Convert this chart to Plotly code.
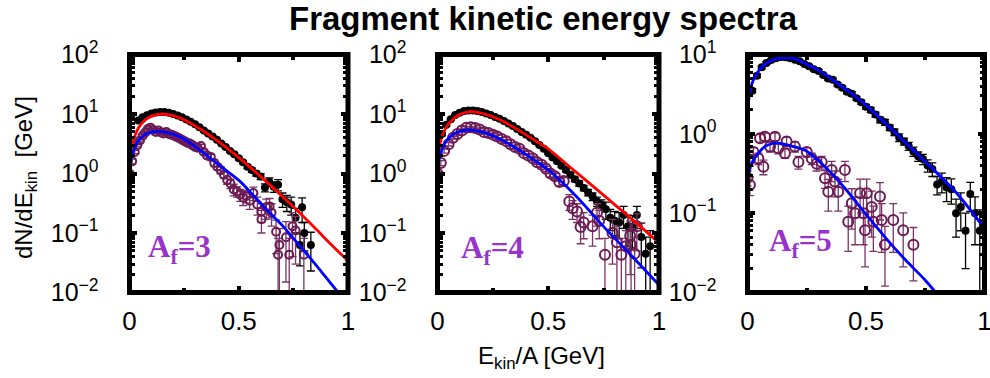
import plotly.graph_objects as go

# ---------------- data ----------------
# Panel A_f=3
p1_black_x = [0.04, 0.06, 0.08, 0.10, 0.12, 0.14, 0.16, 0.18, 0.20, 0.22,
              0.24, 0.26, 0.28, 0.30, 0.32, 0.34, 0.36, 0.38, 0.40, 0.42,
              0.44, 0.46, 0.48, 0.50, 0.52, 0.54, 0.56, 0.58, 0.60, 0.62,
              0.64, 0.66, 0.68, 0.70, 0.72, 0.74, 0.76, 0.78, 0.79, 0.80,
              0.83]
p1_black_y = [7.8, 8.8, 9.5, 10.2, 10.6, 10.8, 10.8, 10.5, 10.0, 9.4,
              8.8, 8.1, 7.4, 6.7, 6.0, 5.3, 4.7, 4.2, 3.7, 3.2,
              2.8, 2.4, 2.1, 1.8, 1.55, 1.3, 1.14, 1.0, 0.89, 0.58,
              0.72, 0.6, 0.65, 0.37, 0.33, 0.30, 0.18, 0.063, 0.27, 0.10,
              0.063]
p1_black_e = [0.3, 0.3, 0.3, 0.3, 0.3, 0.3, 0.3, 0.3, 0.3, 0.3,
              0.3, 0.3, 0.25, 0.25, 0.2, 0.2, 0.2, 0.15, 0.15, 0.12,
              0.12, 0.1, 0.1, 0.1, 0.1, 0.09, 0.09, 0.1, 0.1, 0.09,
              0.12, 0.12, 0.14, 0.1, 0.1, 0.1, 0.08, 0.035, 0.12, 0.05,
              0.04]
p1_open_x = [0.0, 0.012, 0.024, 0.036, 0.048, 0.06, 0.072, 0.084, 0.096, 0.108,
             0.12, 0.132, 0.144, 0.156, 0.168, 0.18, 0.192, 0.204, 0.216, 0.228,
             0.24, 0.252, 0.264, 0.276, 0.288, 0.30, 0.312, 0.327, 0.34, 0.355,
             0.372, 0.388, 0.402, 0.417, 0.432, 0.447, 0.462, 0.477, 0.492, 0.507,
             0.52, 0.535, 0.55, 0.567, 0.585, 0.604, 0.604, 0.626, 0.641, 0.65,
             0.671, 0.68, 0.686, 0.716, 0.731, 0.746, 0.76, 0.798]
p1_open_y = [1.0, 1.6, 2.3, 3.0, 3.6, 4.3, 4.9, 5.6, 5.9, 5.4,
             5.0, 5.3, 4.9, 4.7, 5.0, 4.6, 4.5, 4.3, 4.1, 3.9,
             3.7, 3.5, 3.3, 3.2, 3.0, 2.8, 2.7, 2.9, 2.3, 2.0,
             1.9, 1.5, 1.3, 1.14, 0.95, 0.78, 0.68, 0.54, 0.5, 0.44,
             0.39, 0.42, 0.35, 0.47, 0.3, 0.23, 0.17, 0.27, 0.28, 0.22,
             0.105, 0.043, 0.063, 0.085, 0.043, 0.13, 0.11, 0.043]
p1_open_e = [0.1, 0.15, 0.15, 0.2, 0.2, 0.2, 0.2, 0.2, 0.2, 0.2,
             0.2, 0.2, 0.2, 0.2, 0.2, 0.2, 0.2, 0.2, 0.2, 0.2,
             0.2, 0.2, 0.2, 0.2, 0.2, 0.2, 0.2, 0.2, 0.2, 0.2,
             0.2, 0.2, 0.15, 0.15, 0.12, 0.12, 0.12, 0.12, 0.1, 0.1,
             0.1, 0.1, 0.1, 0.12, 0.1, 0.08, 0.07, 0.1, 0.1, 0.09,
             0.06, 0.038, 0.055, 0.07, 0.038, 0.09, 0.08, 0.038]
p1_red_x = [0.0, 0.005, 0.01, 0.02, 0.035, 0.05, 0.075, 0.1, 0.15, 0.2,
            0.25, 0.327, 0.4, 0.5, 0.626, 0.7, 0.775, 0.85, 0.925, 1.0]
p1_red_y = [1.1, 1.9, 2.7, 3.8, 5.3, 6.5, 8.1, 9.2, 10.0, 9.4,
            8.0, 5.5, 3.6, 1.85, 0.73, 0.41, 0.225, 0.12, 0.063, 0.034]
p1_blue_x = [0.0, 0.005, 0.01, 0.02, 0.035, 0.05, 0.08, 0.13, 0.2, 0.25,
             0.327, 0.42, 0.507, 0.566, 0.626, 0.7, 0.776, 0.85, 0.955, 0.98]
p1_blue_y = [1.0, 1.5, 1.9, 2.5, 3.3, 3.9, 4.7, 5.1, 4.6, 3.8,
             2.4, 1.3, 0.73, 0.43, 0.25, 0.133, 0.063, 0.030, 0.010, 0.0079]

# Panel A_f=4
p2_black_x = [0.02, 0.04, 0.06, 0.08, 0.10, 0.12, 0.14, 0.16, 0.18, 0.20,
              0.22, 0.24, 0.26, 0.28, 0.30, 0.32, 0.34, 0.36, 0.38, 0.40,
              0.42, 0.44, 0.46, 0.48, 0.50, 0.52, 0.54, 0.56, 0.58, 0.60,
              0.62, 0.64, 0.66, 0.68, 0.70, 0.72, 0.74, 0.76, 0.78, 0.80,
              0.82, 0.84, 0.86, 0.88, 0.90, 0.92, 0.94, 0.96]
p2_black_y = [4.6, 6.6, 8.2, 9.6, 10.5, 11.2, 11.5, 11.5, 11.2, 10.8,
              10.2, 9.6, 8.9, 8.3, 7.6, 6.9, 6.3, 5.6, 5.0, 4.5,
              4.0, 3.5, 3.0, 2.6, 2.2, 1.85, 1.6, 1.35, 1.15, 0.95,
              0.8, 0.68, 0.57, 0.48, 0.41, 0.34, 0.3, 0.25, 0.18, 0.16,
              0.15, 0.2, 0.13, 0.126, 0.2, 0.086, 0.045, 0.06]
p2_black_e = [0.3, 0.3, 0.3, 0.3, 0.3, 0.3, 0.3, 0.3, 0.3, 0.3,
              0.3, 0.3, 0.3, 0.25, 0.25, 0.2, 0.2, 0.2, 0.15, 0.15,
              0.12, 0.12, 0.1, 0.1, 0.1, 0.09, 0.09, 0.08, 0.08, 0.08,
              0.07, 0.07, 0.06, 0.06, 0.06, 0.06, 0.06, 0.08, 0.07, 0.07,
              0.07, 0.08, 0.07, 0.07, 0.08, 0.06, 0.04, 0.05]
p2_open_x = [0.0, 0.015, 0.03, 0.05, 0.07, 0.09, 0.11, 0.13, 0.15, 0.17,
             0.19, 0.21, 0.23, 0.25, 0.27, 0.29, 0.31, 0.33, 0.35, 0.37,
             0.39, 0.41, 0.43, 0.45, 0.47, 0.49, 0.51, 0.53, 0.55, 0.57,
             0.595, 0.61, 0.63, 0.646, 0.66, 0.70, 0.72, 0.73, 0.756, 0.79,
             0.81, 0.83, 0.85, 0.87, 0.874, 0.89, 0.90]
p2_open_y = [1.0, 1.5, 2.4, 3.1, 4.0, 4.6, 5.3, 5.9, 6.0, 5.8,
             5.5, 5.0, 4.8, 4.5, 4.2, 3.8, 3.5, 3.1, 2.8, 2.6,
             2.2, 2.0, 1.8, 1.55, 1.4, 1.2, 1.0, 0.9, 0.72, 0.75,
             0.34, 0.26, 0.23, 0.126, 0.15, 0.13, 0.22, 0.16, 0.043, 0.1,
             0.07, 0.043, 0.06, 0.09, 0.063, 0.045, 0.13]
p2_open_e = [0.1, 0.15, 0.2, 0.2, 0.2, 0.2, 0.2, 0.2, 0.2, 0.2,
             0.2, 0.2, 0.2, 0.2, 0.2, 0.2, 0.2, 0.2, 0.2, 0.2,
             0.15, 0.15, 0.15, 0.12, 0.12, 0.12, 0.12, 0.1, 0.1, 0.1,
             0.1, 0.09, 0.08, 0.06, 0.07, 0.07, 0.09, 0.08, 0.038, 0.07,
             0.06, 0.038, 0.05, 0.07, 0.055, 0.04, 0.08]
p2_red_x = [0.0, 0.005, 0.01, 0.02, 0.035, 0.05, 0.075, 0.1, 0.147, 0.2,
            0.25, 0.3, 0.375, 0.45, 0.5, 0.613, 0.7, 0.8, 0.9, 1.0]
p2_red_y = [1.6, 2.4, 3.0, 4.2, 5.6, 6.8, 8.5, 9.8, 11.0, 10.3,
            9.0, 7.4, 5.1, 3.4, 2.6, 1.15, 0.62, 0.30, 0.145, 0.068]
p2_blue_x = [0.0, 0.005, 0.01, 0.02, 0.035, 0.05, 0.08, 0.139, 0.2, 0.25,
             0.3, 0.375, 0.45, 0.5, 0.625, 0.75, 0.875, 1.0]
p2_blue_y = [1.0, 1.5, 1.9, 2.5, 3.3, 3.9, 4.8, 5.4, 5.0, 4.3,
             3.5, 2.4, 1.55, 1.15, 0.42, 0.128, 0.042, 0.0134]

# Panel A_f=5
p3_black_x = [0.02, 0.04, 0.06, 0.08, 0.10, 0.12, 0.14, 0.16, 0.18, 0.20,
              0.22, 0.24, 0.26, 0.28, 0.30, 0.32, 0.34, 0.36, 0.38, 0.40,
              0.42, 0.44, 0.46, 0.48, 0.50, 0.52, 0.54, 0.56, 0.58, 0.60,
              0.62, 0.64, 0.66, 0.68, 0.70, 0.72, 0.74, 0.76, 0.78, 0.80,
              0.82, 0.84, 0.86, 0.88, 0.90, 0.92, 0.94, 0.96, 0.98]
p3_black_y = [3.5, 5.4, 6.9, 7.8, 8.5, 9.0, 9.3, 9.2, 9.0, 8.6,
              8.2, 7.6, 7.1, 6.5, 6.2, 5.5, 5.0, 4.8, 4.2, 3.8,
              3.4, 3.2, 2.8, 2.5, 2.2, 2.0, 1.75, 1.5, 1.4, 1.2,
              1.05, 0.9, 0.8, 0.7, 0.6, 0.52, 0.48, 0.4, 0.36, 0.23,
              0.25, 0.21, 0.2, 0.1, 0.12, 0.06, 0.175, 0.1, 0.06]
p3_black_e = [0.2, 0.3, 0.3, 0.3, 0.3, 0.3, 0.3, 0.3, 0.3, 0.3,
              0.3, 0.3, 0.3, 0.3, 0.3, 0.25, 0.25, 0.25, 0.2, 0.2,
              0.2, 0.2, 0.15, 0.15, 0.15, 0.15, 0.12, 0.12, 0.12, 0.1,
              0.1, 0.1, 0.08, 0.08, 0.08, 0.07, 0.07, 0.07, 0.07, 0.06,
              0.07, 0.07, 0.07, 0.05, 0.06, 0.04, 0.07, 0.06, 0.05]
p3_open_x = [0.0, 0.01, 0.01, 0.025, 0.046, 0.053, 0.067, 0.074, 0.095, 0.116,
             0.13, 0.158, 0.165, 0.2, 0.215, 0.25, 0.271, 0.292, 0.313, 0.327,
             0.341, 0.355, 0.369, 0.383, 0.411, 0.425, 0.44, 0.454, 0.475, 0.489,
             0.496, 0.503, 0.524, 0.531, 0.559, 0.566, 0.58, 0.615, 0.657, 0.7]
p3_open_y = [0.28, 0.226, 0.47, 0.59, 0.49, 0.88, 0.385, 0.92, 0.69, 0.92,
             0.66, 0.57, 0.8, 0.69, 0.44, 0.59, 0.49, 0.42, 0.44, 0.275,
             0.186, 0.35, 0.25, 0.186, 0.35, 0.078, 0.133, 0.1, 0.178, 0.1,
             0.061, 0.178, 0.12, 0.078, 0.162, 0.082, 0.04, 0.082, 0.061, 0.04]
p3_open_e = [0.06, 0.06, 0.08, 0.08, 0.08, 0.1, 0.08, 0.1, 0.1, 0.1,
             0.1, 0.08, 0.1, 0.1, 0.08, 0.08, 0.08, 0.08, 0.08, 0.07,
             0.08, 0.1, 0.09, 0.08, 0.1, 0.045, 0.07, 0.06, 0.09, 0.06,
             0.04, 0.09, 0.07, 0.045, 0.08, 0.05, 0.028, 0.05, 0.04, 0.026]
p3_blue_hi_x = [0.0, 0.005, 0.01, 0.02, 0.04, 0.06, 0.09, 0.12, 0.165, 0.2,
                0.244, 0.3, 0.372, 0.44, 0.5, 0.628, 0.756, 0.883, 1.0]
p3_blue_hi_y = [1.7, 2.6, 3.3, 4.4, 5.8, 6.9, 8.1, 8.8, 9.1, 8.8,
                7.7, 6.3, 4.5, 3.2, 2.3, 1.0, 0.43, 0.178, 0.064]
p3_blue_lo_x = [0.0, 0.005, 0.012, 0.025, 0.046, 0.07, 0.102, 0.135, 0.172, 0.243,
                0.327, 0.411, 0.496, 0.58, 0.665, 0.749, 0.798, 0.82]
p3_blue_lo_y = [0.195, 0.3, 0.38, 0.47, 0.57, 0.68, 0.75, 0.76, 0.72, 0.62,
                0.385, 0.206, 0.1, 0.05, 0.026, 0.0144, 0.0097, 0.008]

panel_labels = ["A<sub>f</sub>=3", "A<sub>f</sub>=4", "A<sub>f</sub>=5"]
x_ticks = [0, 0.5, 1]
x_ticktext = ["0", "0.5", "1"]
y_ticks = [0.01, 0.1, 1, 10, 100]
y_ticktext = ["10<sup>\u22122</sup>", "10<sup>\u22121</sup>", "10<sup>0</sup>",
              "10<sup>1</sup>", "10<sup>2</sup>"]

# ---------------- styling / layout ----------------
W, H = 990, 378
FONT = "Liberation Sans, Arial, sans-serif"
PURPLE = "#6c1a52"
PURPLE_ERR = "#7a3566"
LABEL_COL = "#9933cc"

# pixel boxes of the panels (x0, x1, ytop, ybottom)
boxes = [(129.5, 348.0, 54.5, 292.5),
         (437.5, 659.0, 54.5, 292.5),
         (747.5, 984.5, 54.5, 292.5)]
yranges = [[-2, 2], [-2, 2], [-2, 1]]
open_sizes = [8, 10, 10]

fig = go.Figure()

def add_err_scatter(i, x, y, e, color, ecolor, symbol, size, lw):
    fig.add_trace(go.Scatter(
        x=x, y=y, mode="markers",
        xaxis=f"x{i+1 if i else ''}", yaxis=f"y{i+1 if i else ''}",
        marker=dict(symbol=symbol, size=size, color=color,
                    line=dict(color=color, width=lw)),
        error_y=dict(type="data", array=e, color=ecolor, thickness=1.3, width=4),
        showlegend=False, hoverinfo="skip"))

def add_line(i, x, y, color):
    fig.add_trace(go.Scatter(
        x=x, y=y, mode="lines", line=dict(color=color, width=2.8, shape="spline", smoothing=0.8),
        xaxis=f"x{i+1 if i else ''}", yaxis=f"y{i+1 if i else ''}",
        showlegend=False, hoverinfo="skip"))

data_sets = [
    (p1_black_x, p1_black_y, p1_black_e, p1_open_x, p1_open_y, p1_open_e),
    (p2_black_x, p2_black_y, p2_black_e, p2_open_x, p2_open_y, p2_open_e),
    (p3_black_x, p3_black_y, p3_black_e, p3_open_x, p3_open_y, p3_open_e),
]
for i, (bx, by, be, ox, oy, oe) in enumerate(data_sets):
    add_err_scatter(i, bx, by, be, "black", "black", "circle", 8, 0)
    add_err_scatter(i, ox, oy, oe, PURPLE, PURPLE_ERR, "circle-open", open_sizes[i], 2)

add_line(0, p1_red_x, p1_red_y, "#ff0000")
add_line(0, p1_blue_x, p1_blue_y, "#0000ff")
add_line(1, p2_red_x, p2_red_y, "#ff0000")
add_line(1, p2_blue_x, p2_blue_y, "#0000ff")
add_line(2, p3_blue_hi_x, p3_blue_hi_y, "#0000ff")
add_line(2, p3_blue_lo_x, p3_blue_lo_y, "#0000ff")

minor_y = [m * 10 ** k for k in range(-2, 2) for m in range(2, 10)]
layout = dict(width=W, height=H,
              margin=dict(l=0, r=0, t=0, b=0, pad=0, autoexpand=False),
              paper_bgcolor="white", plot_bgcolor="white",
              font=dict(family=FONT, color="black"))
shapes = []
annotations = []
for i, (x0, x1, yt, yb) in enumerate(boxes):
    sx = "" if i == 0 else str(i + 1)
    layout[f"xaxis{sx}"] = dict(
        domain=[x0 / W, x1 / W], range=[0, 1], anchor=f"y{sx}",
        showgrid=False, zeroline=False, showline=False, automargin=False,
        ticks="inside", ticklen=7, tickwidth=4, tickcolor="black", mirror="ticks",
        tickmode="array", tickvals=x_ticks, ticktext=x_ticktext,
        tickfont=dict(size=26, family=FONT), ticklabelstandoff=10,
        ticklabeloverflow="allow",
        minor=dict(ticks="inside", ticklen=5, tickwidth=4, tickcolor="black",
                   tickmode="array", tickvals=[0.25, 0.75]))
    layout[f"yaxis{sx}"] = dict(
        domain=[1 - yb / H, 1 - yt / H], type="log", range=yranges[i], anchor=f"x{sx}",
        showgrid=False, zeroline=False, showline=False, automargin=False,
        ticks="inside", ticklen=7, tickwidth=4, tickcolor="black", mirror="ticks",
        tickmode="array", tickvals=y_ticks, ticktext=y_ticktext,
        tickfont=dict(size=25, family=FONT), ticklabelstandoff=30,
        ticklabeloverflow="allow",
        minor=dict(ticks="inside", ticklen=5, tickwidth=3, tickcolor="black",
                   tickmode="array", tickvals=minor_y))
    shapes.append(dict(type="rect", xref=f"x{sx} domain", yref=f"y{sx} domain",
                       x0=0, x1=1, y0=0, y1=1, line=dict(color="black", width=5),
                       layer="above"))

label_pos = [(179, 249), (492, 250), (800, 243)]
for i, (lx, ly) in enumerate(label_pos):
    annotations.append(dict(x=lx / W, y=1 - ly / H, xref="paper", yref="paper",
                            text=f"<b>{panel_labels[i]}</b>", showarrow=False,
                            font=dict(family="Liberation Serif, Times New Roman, serif",
                                      size=31, color=LABEL_COL),
                            xanchor="center", yanchor="middle"))

annotations.append(dict(x=543 / W, y=1 - 18 / H, xref="paper", yref="paper",
                        text="<b>Fragment kinetic energy spectra</b>", showarrow=False,
                        font=dict(family=FONT, size=33, color="black"),
                        xanchor="center", yanchor="middle"))
annotations.append(dict(x=541 / W, y=1 - 357 / H, xref="paper", yref="paper",
                        text="E<sub>kin</sub>/A [GeV]", showarrow=False,
                        font=dict(family=FONT, size=24, color="black"),
                        xanchor="center", yanchor="middle"))
annotations.append(dict(x=25 / W, y=1 - 178 / H, xref="paper", yref="paper",
                        text="dN/dE<sub>kin</sub>  [GeV]", showarrow=False, textangle=-90,
                        font=dict(family=FONT, size=24, color="black"),
                        xanchor="center", yanchor="middle"))

layout["shapes"] = shapes
layout["annotations"] = annotations
fig.update_layout(**layout)
fig.write_html("out.html")
